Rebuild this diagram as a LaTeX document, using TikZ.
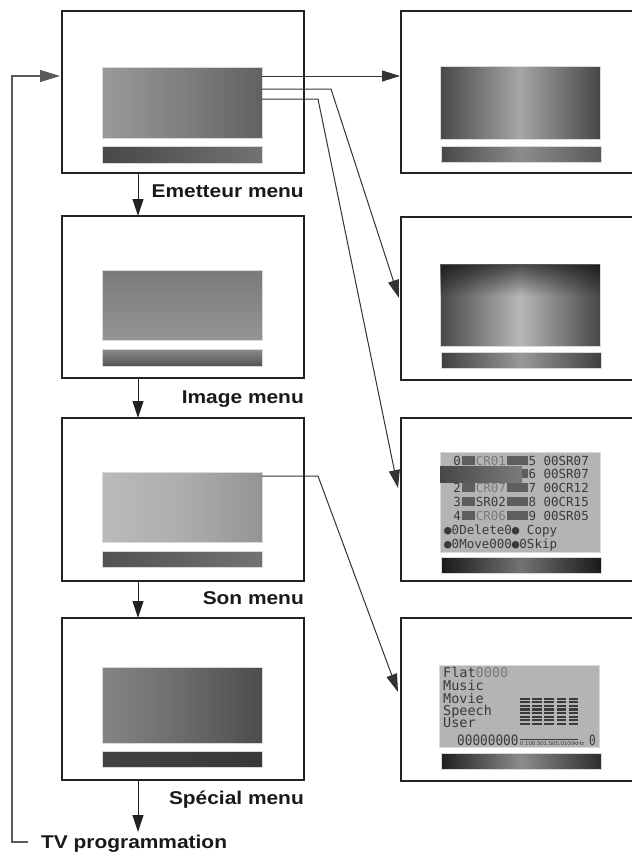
\documentclass[tikz,border=0pt]{standalone}
\usepackage{fontspec}
\usepackage{graphicx}
\setmainfont{Liberation Sans}
\newfontfamily\lcdfont{DejaVu Sans Mono}
\usetikzlibrary{arrows.meta,calc,fadings}
\definecolor{boxc}{HTML}{222222}
\definecolor{connc}{HTML}{333333}
\definecolor{fbc}{HTML}{5A5A5A}
\definecolor{lcdbg}{HTML}{B4B4B4}
\definecolor{lcdtxt}{HTML}{3A3A3A}
\definecolor{lcddim}{HTML}{7A7A7A}
\definecolor{lcdblk}{HTML}{5E5E5E}
\newdimen\lcdw \lcdw=7.53pt
\newcommand\bk[1]{\makebox[#1\lcdw][c]{\textcolor{lcdblk}{\rule[-0.3pt]{\dimexpr #1\lcdw-1.6pt\relax}{9pt}}}}
\newcommand\dm[1]{\textcolor{lcddim}{#1}}
\tikzset{
  box/.style={draw=boxc, line width=1.3pt, fill=white, inner sep=0pt, outer sep=0pt, anchor=north west},
  scr/.style={draw=black!15, line width=0.6pt, inner sep=0pt, outer sep=0pt, anchor=north west, minimum width=160pt},
  lbl/.style={inner sep=0pt, anchor=base east, font=\fontsize{18.5}{20}\selectfont\bfseries, text=black!90},
  lcd/.style={inner sep=0pt, font=\lcdfont\fontsize{12.5}{14}\selectfont, text=lcdtxt},
  lcdb/.style={inner sep=0pt, font=\lcdfont\fontsize{13.5}{15}\selectfont, text=lcdtxt},
  tip/.style={-{Triangle[length=18pt,width=11pt]}},
  conn/.style={draw=connc, line width=1pt, tip},
  downarr/.style={draw=boxc, line width=1pt, -{Triangle[length=17pt,width=11pt]}},
  fb/.style={draw=fbc, line width=1.1pt, -{Triangle[length=20pt,width=12pt]}}
}
\begin{document}
\begin{tikzpicture}[x=1pt,y=-1pt]
\useasboundingbox (0,0) rectangle (632,855);
\clip (0,0) rectangle (632,855);
% ---------- left column ----------
\node[box, minimum width=242pt, minimum height=162pt] (L1) at (62,11) {};
\node[box, minimum width=242pt, minimum height=162pt] (L2) at (62,216) {};
\node[box, minimum width=242pt, minimum height=163pt] (L3) at (62,418) {};
\node[box, minimum width=242pt, minimum height=162pt] (L4) at (62,618) {};
\node[scr, minimum height=71pt, left color=black!40, right color=black!62, middle color=black!50] (S1) at (102,67) {};
\node[scr, minimum height=17pt, left color=black!72, right color=black!55] (B1) at (102,146) {};
\node[scr, minimum height=70pt, top color=black!52, bottom color=black!42] (S2) at (102,270) {};
\node[scr, minimum height=17pt, top color=black!45, bottom color=black!68] (B2) at (102,349) {};
\node[scr, minimum height=70pt, left color=black!27, right color=black!42, middle color=black!32] (S3) at (102,472) {};
\node[scr, minimum height=16pt, left color=black!68, right color=black!55] (B3) at (102,551) {};
\node[scr, minimum height=76pt, left color=black!48, right color=black!70, middle color=black!58] (S4) at (102,667) {};
\node[scr, minimum height=16pt, left color=black!74, right color=black!78] (B4) at (102,751) {};
% ---------- right column ----------
\node[box, minimum width=260pt, minimum height=162pt] (R1) at (401,11) {};
\node[box, minimum width=260pt, minimum height=163pt] (R2) at (401,217) {};
\node[box, minimum width=260pt, minimum height=163pt] (R3) at (401,418) {};
\node[box, minimum width=260pt, minimum height=163pt] (R4) at (401,618) {};
\node[scr, minimum height=73pt, left color=black!72, right color=black!72, middle color=black!35] (T1) at (440,66) {};
\node[scr, minimum height=16pt, left color=black!72, right color=black!65, middle color=black!45] (U1) at (441,146) {};
\node[scr, minimum height=82pt, left color=black!72, right color=black!72, middle color=black!28] (T2) at (440,264) {};
\fill[black, opacity=0.6, path fading=south] (T2.north west) rectangle ($(T2.north east)+(0,32)$);
\node[scr, minimum height=16pt, left color=black!75, right color=black!75, middle color=black!40] (U2) at (441,352) {};
\node[scr, minimum height=100pt, fill=lcdbg] (T3) at (440,452) {};
\node[scr, minimum height=16pt, left color=black!90, right color=black!90, middle color=black!55] (U3) at (441,557) {};
\node[scr, minimum height=82pt, fill=lcdbg] (T4) at (439,665) {};
\node[scr, minimum height=16pt, left color=black!88, right color=black!82, middle color=black!45] (U4) at (441,753) {};
% ---------- LCD of the program list ----------
\node[lcd, anchor=base east] (p1) at (589,465) {0\bk{2}\dm{CR01}\bk{3}5 00SR07};
\node[lcd, anchor=base east] (p2) at (589,478) {\bk{3}6 00SR07};
\node[scr, minimum width=82pt, minimum height=16pt, draw=none, left color=black!72, right color=black!52] (hl) at (440,466) {};
\node[lcd, anchor=base east] (p3) at (589,492) {2\bk{2}\dm{CR07}\bk{3}7 00CR12};
\node[lcd, anchor=base east] (p4) at (589,506) {3\bk{2}SR02\bk{3}8 00CR15};
\node[lcd, anchor=base east] (p5) at (589,520) {4\bk{2}\dm{CR06}\bk{3}9 00SR05};
\node[lcd, anchor=base west] (p6) at (444,534) {●0Delete0● Copy};
\node[lcd, anchor=base west] (p7) at (444,548) {●0Move000●0Skip};
% ---------- LCD of the sound modes ----------
\node[lcdb, anchor=base west] (m1) at (443,677) {Flat\dm{0000}};
\node[lcdb, anchor=base west] (m2) at (443,690) {Music};
\node[lcdb, anchor=base west] (m3) at (443,703) {Movie};
\node[lcdb, anchor=base west] (m4) at (443,715) {Speech};
\node[lcdb, anchor=base west] (m5) at (443,727) {User};
\foreach \i in {0,...,4}{
  \foreach \j in {0,...,7}{
    \fill[lcdtxt] (520+12.2*\i, 697.5+3.6*\j) rectangle ++(9.5,2.2);
  }
}
\node[inner sep=0pt, anchor=base west, font=\lcdfont\fontsize{13}{14}\selectfont, text=lcdtxt] (m6) at (457,745) {\scalebox{0.98}[1.1]{00000000}};
\node[inner sep=0pt, anchor=base west, font=\fontsize{5.6}{6}\selectfont, text=lcdtxt] (m7) at (520,745) {\scalebox{1.08}[1]{0.100.501.505.0100kHz}};
\draw[lcdtxt, line width=0.4pt] (m7.north west) ++(0,-2) -- ++(58,0);
\node[inner sep=0pt, anchor=base west, font=\lcdfont\fontsize{13}{14}\selectfont, text=lcdtxt] (m8) at (589,745) {\scalebox{0.85}[1.1]{0}};
% ---------- labels ----------
\node[lbl] (e) at (304,197) {\scalebox{1.13}[1]{Emetteur menu}};
\node[lbl] (i) at (304,403) {\scalebox{1.13}[1]{Image menu}};
\node[lbl] (s) at (304,604) {\scalebox{1.13}[1]{Son menu}};
\node[lbl] (sp) at (304,804) {\scalebox{1.13}[1]{Spécial menu}};
\node[lbl, anchor=base west] (TV) at (41,848) {\scalebox{1.13}[1]{TV programmation}};
% ---------- connectors ----------
\draw[downarr] ($(L1.south west)+(76,0)$) -- ($(L2.north west)+(76,0)$);
\draw[downarr] ($(L2.south west)+(76,0)$) -- ($(L3.north west)+(76,0)$);
\draw[downarr] ($(L3.south west)+(76,0)$) -- ($(L4.north west)+(76,0)$);
\draw[downarr] ($(L4.south west)+(76,0)$) -- ($(L4.south west)+(76,52)$);
\draw[conn] ($(S1.north east)+(0,9)$) -- ($(R1.north west)+(-1,65)$);
\draw[conn] ($(S1.north east)+(0,22)$) -- ++(69,0) -- ($(R2.north west)+(-2,81)$);
\draw[conn] ($(S1.north east)+(0,32)$) -- ++(56,0) -- ($(R3.north west)+(-3,70)$);
\draw[conn] ($(S3.north east)+(0,4)$) -- ++(56,0) -- ($(R4.north west)+(-3,74)$);
\draw[fb] ($(TV.base west)+(-13,-6)$) -- (12,842) -- (12,76) -- ($(L1.north west)+(-2,65)$);
\end{tikzpicture}
\end{document}
